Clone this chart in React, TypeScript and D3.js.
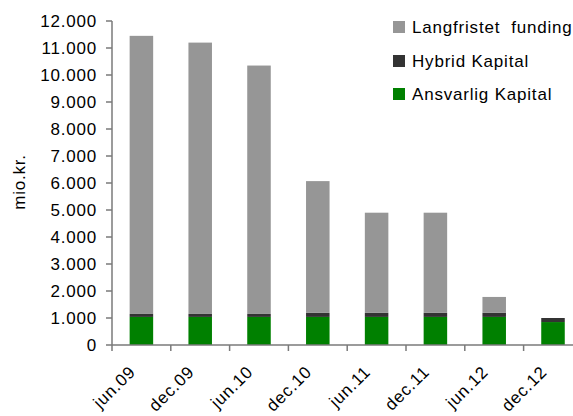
import React, { useEffect, useRef } from 'react';
import * as d3 from 'd3';

const categories = ['jun.09', 'dec.09', 'jun.10', 'dec.10', 'jun.11', 'dec.11', 'jun.12', 'dec.12'];
const ansvarligKapital = [1040, 1040, 1040, 1040, 1040, 1040, 1040, 850];
const hybridKapital = [110, 110, 110, 150, 150, 150, 150, 150];
const langfristetFunding = [10300, 10050, 9200, 4880, 3710, 3710, 590, 0];
const yTicks = [0, 1000, 2000, 3000, 4000, 5000, 6000, 7000, 8000, 9000, 10000, 11000, 12000];

const series = [
  { key: 'ansvarlig', label: 'Ansvarlig Kapital', color: '#008000', values: ansvarligKapital },
  { key: 'hybrid', label: 'Hybrid Kapital', color: '#333333', values: hybridKapital },
  { key: 'langfristet', label: 'Langfristet  funding', color: '#969696', values: langfristetFunding },
];

const width = 573;
const height = 416;

export default function App() {
  const svgRef = useRef<SVGSVGElement>(null);

  useEffect(() => {
    const svg = d3.select(svgRef.current);
    svg.selectAll('*').remove();

    const left = 112;
    const step = 58.8;
    const zeroY = 345;
    const topY = 21;
    const font = '"Liberation Sans", Arial, sans-serif';

    const xScale = d3
      .scaleBand<string>()
      .domain(categories)
      .range([left, left + step * categories.length])
      .paddingInner(0.6)
      .paddingOuter(0.3);

    const yScale = d3.scaleLinear().domain([0, 12000]).range([zeroY, topY]);

    const table = categories.map((c, i) => {
      const row: Record<string, number | string> = { cat: c };
      series.forEach(s => (row[s.key] = s.values[i]));
      return row;
    });

    const stacked = d3.stack<any>().keys(series.map(s => s.key))(table);

    // Bars
    stacked.forEach((layer, li) => {
      svg.append('g')
        .selectAll('rect')
        .data(layer)
        .enter()
        .append('rect')
        .attr('x', d => xScale(d.data.cat as string) || 0)
        .attr('width', xScale.bandwidth())
        .attr('y', d => yScale(d[1]))
        .attr('height', d => Math.max(0, yScale(d[0]) - yScale(d[1])))
        .style('fill', series[li].color);
    });

    const axisColor = '#7a7a7a';

    // Y axis
    svg.append('line')
      .attr('x1', left).attr('x2', left)
      .attr('y1', topY).attr('y2', zeroY)
      .style('stroke', axisColor).style('stroke-width', 1.5);

    svg.selectAll('.ytick')
      .data(yTicks)
      .enter()
      .append('line')
      .attr('x1', left - 6).attr('x2', left)
      .attr('y1', d => yScale(d)).attr('y2', d => yScale(d))
      .style('stroke', axisColor).style('stroke-width', 1.5);

    svg.selectAll('.ylabel')
      .data(yTicks)
      .enter()
      .append('text')
      .attr('x', 97)
      .attr('y', d => yScale(d))
      .attr('dy', '0.36em')
      .attr('text-anchor', 'end')
      .style('font-family', font)
      .style('font-size', '17px')
      .style('letter-spacing', '0.8px')
      .style('fill', '#000')
      .text(d => d3.format(',')(d).replace(/,/g, '.'));

    // X axis
    svg.append('line')
      .attr('x1', left).attr('x2', width)
      .attr('y1', zeroY).attr('y2', zeroY)
      .style('stroke', axisColor).style('stroke-width', 1.5);

    const boundaries = categories.map(c => (xScale(c) || 0) - xScale.step() * 0.3);
    svg.selectAll('.xtick')
      .data(boundaries)
      .enter()
      .append('line')
      .attr('x1', d => d).attr('x2', d => d)
      .attr('y1', zeroY).attr('y2', zeroY + 6)
      .style('stroke', axisColor).style('stroke-width', 1.5);

    svg.selectAll('.xlabel')
      .data(categories)
      .enter()
      .append('text')
      .attr('transform', d => {
        const cx = (xScale(d) || 0) + xScale.bandwidth() / 2 - 5;
        return `translate(${cx},${zeroY + 28}) rotate(-45)`;
      })
      .attr('text-anchor', 'end')
      .style('font-family', font)
      .style('font-size', '17px')
      .style('letter-spacing', '0.8px')
      .style('fill', '#000')
      .text(d => d);

    // Y title
    svg.append('text')
      .attr('transform', 'translate(25,182) rotate(-90)')
      .attr('text-anchor', 'middle')
      .style('font-family', font)
      .style('font-size', '17px')
      .style('letter-spacing', '0.8px')
      .style('fill', '#000')
      .text('mio.kr.');

    // Legend
    const legendRows = [series[2], series[1], series[0]];
    const rowY = [27, 61, 94];
    const legend = svg.append('g');
    legendRows.forEach((s, i) => {
      legend.append('rect')
        .attr('x', 393).attr('y', rowY[i] - 6)
        .attr('width', 12).attr('height', 12)
        .style('fill', s.color);
      legend.append('text')
        .attr('x', 412).attr('y', rowY[i])
        .attr('dy', '0.36em')
        .style('font-family', font)
        .style('font-size', '17px')
        .style('letter-spacing', '0.8px')
        .style('white-space', 'pre')
        .style('fill', '#000')
        .text(s.label);
    });
  }, []);

  return (
    <div style={{ position: 'absolute', left: 0, top: 0 }}>
      <svg ref={svgRef} width={width} height={height} style={{ display: 'block', background: '#fff' }} />
    </div>
  );
}
